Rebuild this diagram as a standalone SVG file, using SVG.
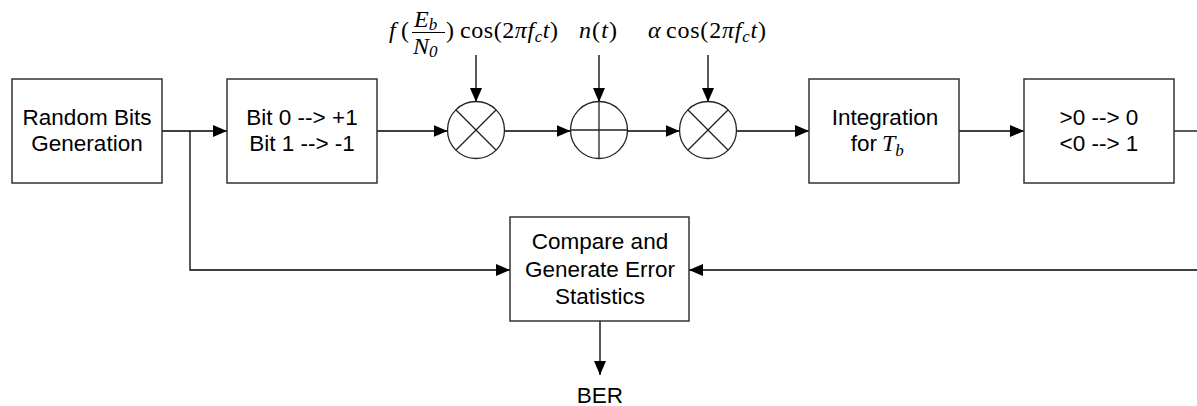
<svg xmlns="http://www.w3.org/2000/svg" width="1197" height="406" viewBox="0 0 1197 406">
<style>
.box{fill:#fff;stroke:#333;stroke-width:1.5}
.lbl{font-family:"Liberation Sans",Arial,sans-serif;font-size:22.5px;fill:#000;text-anchor:middle}
.lblend{font-family:"Liberation Sans",Arial,sans-serif;font-size:22.5px;fill:#000;text-anchor:end}
.math{font-family:"Liberation Serif","Times New Roman",serif;font-size:24px;fill:#000}
.it{font-style:italic}
.sub{font-size:17px;font-style:italic}
.con{fill:none;stroke:#000;stroke-width:1.3}
.sym{fill:#fff;stroke:#222;stroke-width:1.3}
.symln{stroke:#222;stroke-width:1.3}
</style>
<defs>
<marker id="ah" markerUnits="userSpaceOnUse" markerWidth="14" markerHeight="12" refX="14" refY="6" orient="auto">
<path d="M0,0 L14,6 L0,12 z" fill="#000"/>
</marker>
</defs>
<rect width="1197" height="406" fill="#fff"/>

<g id="connectors">
<line class="con" x1="162" y1="131" x2="227" y2="131" marker-end="url(#ah)"/>
<polyline class="con" points="190,131 190,270 510,270" marker-end="url(#ah)"/>
<line class="con" x1="377" y1="131" x2="447.5" y2="131" marker-end="url(#ah)"/>
<line class="con" x1="504.5" y1="131" x2="570.5" y2="131" marker-end="url(#ah)"/>
<line class="con" x1="627.5" y1="131" x2="679.5" y2="131" marker-end="url(#ah)"/>
<line class="con" x1="736.5" y1="131" x2="809" y2="131" marker-end="url(#ah)"/>
<line class="con" x1="959" y1="131" x2="1024" y2="131" marker-end="url(#ah)"/>
<line class="con" x1="1174" y1="131" x2="1197" y2="131"/>
<line class="con" x1="1197" y1="270" x2="689" y2="270" marker-end="url(#ah)"/>
<line class="con" x1="600" y1="321" x2="600" y2="375" marker-end="url(#ah)"/>
<line class="con" x1="476" y1="55" x2="476" y2="102" marker-end="url(#ah)"/>
<line class="con" x1="599" y1="55" x2="599" y2="102" marker-end="url(#ah)"/>
<line class="con" x1="708" y1="55" x2="708" y2="102" marker-end="url(#ah)"/>
</g>

<g id="random-bits">
<rect class="box" x="12" y="79" width="150" height="104"/>
<text class="lbl" x="87" y="125">Random Bits</text>
<text class="lbl" x="87" y="151">Generation</text>
</g>

<g id="mapper">
<rect class="box" x="227" y="79" width="150" height="104"/>
<text class="lbl" x="302" y="125">Bit 0 --&gt; +1</text>
<text class="lbl" x="302" y="151">Bit 1 --&gt; -1</text>
</g>

<g id="mixer1">
<circle class="sym" cx="476" cy="130" r="28.5"/>
<line class="symln" x1="455.8" y1="109.8" x2="496.2" y2="150.2"/>
<line class="symln" x1="496.2" y1="109.8" x2="455.8" y2="150.2"/>
</g>

<g id="adder">
<circle class="sym" cx="599" cy="130" r="28.5"/>
<line class="symln" x1="570.5" y1="130" x2="627.5" y2="130"/>
<line class="symln" x1="599" y1="101.5" x2="599" y2="158.5"/>
</g>

<g id="mixer2">
<circle class="sym" cx="708" cy="130" r="28.5"/>
<line class="symln" x1="687.8" y1="109.8" x2="728.2" y2="150.2"/>
<line class="symln" x1="728.2" y1="109.8" x2="687.8" y2="150.2"/>
</g>

<g id="label-carrier">
<text class="math it" x="389" y="38">f</text>
<text class="math" x="401" y="38">(</text>
<text class="math it" x="414" y="27">E<tspan class="sub" dy="3">b</tspan></text>
<line x1="412" y1="32.5" x2="445" y2="32.5" stroke="#000" stroke-width="1.1"/>
<text class="math it" x="413" y="54">N<tspan class="sub" dy="3" font-style="normal">0</tspan></text>
<text class="math" x="446" y="38">)</text>
<text class="math" x="460" y="38" textLength="98" lengthAdjust="spacing">cos(2<tspan class="it">πf</tspan><tspan class="sub" dy="4">c</tspan><tspan class="it" dy="-4">t</tspan>)</text>
</g>

<g id="label-noise">
<text class="math" x="579" y="38" textLength="38" lengthAdjust="spacing"><tspan class="it">n</tspan>(<tspan class="it">t</tspan>)</text>
</g>

<g id="label-lo">
<text class="math it" x="648" y="38">α</text>
<text class="math" x="666" y="38" textLength="100" lengthAdjust="spacing">cos(2<tspan class="it">πf</tspan><tspan class="sub" dy="4">c</tspan><tspan class="it" dy="-4">t</tspan>)</text>
</g>

<g id="integrator">
<rect class="box" x="809" y="79" width="150" height="104"/>
<text class="lbl" x="885" y="125">Integration</text>
<text class="lblend" x="877" y="151">for</text>
<text class="math it" x="882" y="151">T<tspan class="sub" dy="5">b</tspan></text>
</g>

<g id="decision">
<rect class="box" x="1024" y="79" width="150" height="104"/>
<text class="lbl" x="1099" y="125">&gt;0 --&gt; 0</text>
<text class="lbl" x="1099" y="151">&lt;0 --&gt; 1</text>
</g>

<g id="compare">
<rect class="box" x="510" y="217" width="179" height="104"/>
<text class="lbl" x="600" y="249">Compare and</text>
<text class="lbl" x="600" y="277">Generate Error</text>
<text class="lbl" x="600" y="304">Statistics</text>
</g>

<g id="ber">
<text class="lbl" x="600" y="403">BER</text>
</g>
</svg>
